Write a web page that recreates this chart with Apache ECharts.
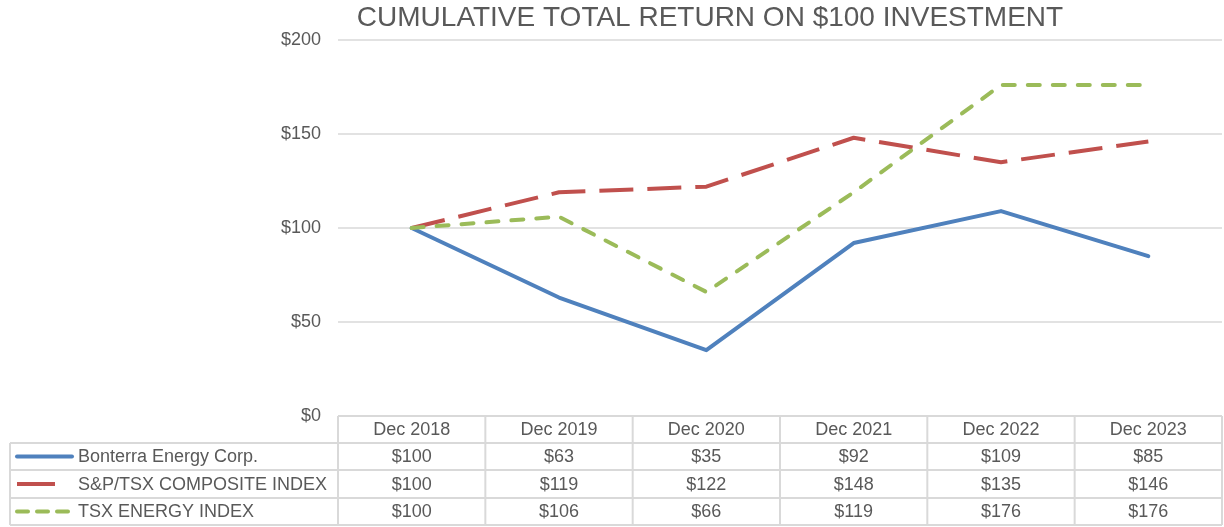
<!DOCTYPE html>
<html><head><meta charset="utf-8">
<script src="https://cdn.jsdelivr.net/npm/echarts@6/dist/echarts.min.js"></script>
<style>html,body{margin:0;padding:0;background:#fff}#c{width:1224px;height:527px}</style>
</head><body><div id="c"></div>
<script>
const categories = ['Dec 2018','Dec 2019','Dec 2020','Dec 2021','Dec 2022','Dec 2023'];
const seriesNames = ['Bonterra Energy Corp.','S&P/TSX COMPOSITE INDEX','TSX ENERGY INDEX'];
const bonterra = [100, 63, 35, 92, 109, 85];
const sptsx = [100, 119, 122, 148, 135, 146];
const tsxEnergy = [100, 106, 66, 119, 176, 176];
const yTicks = [0, 50, 100, 150, 200];
const titleText = 'CUMULATIVE TOTAL RETURN ON $100 INVESTMENT';

const FONT = '"Liberation Sans", Arial, sans-serif';
const TXT = '#595959';
const BORDER = '#d9d9d9';
const colors = ['#4f81bd', '#c0504d', '#9bbb59'];
const dashes = ['solid', [34, 14], [12, 13]];
const caps = ['round', 'butt', 'round'];
const allData = [bonterra, sptsx, tsxEnergy];

const chart = echarts.init(document.getElementById('c'));
const option = {
  animation: false,
  grid: { left: 338, right: 2, top: 40, bottom: 111, containLabel: false },
  xAxis: {
    type: 'category', data: categories, boundaryGap: true,
    axisLine: { show: false }, axisTick: { show: false }, axisLabel: { show: false }
  },
  yAxis: {
    type: 'value', min: 0, max: 200, interval: 50,
    axisLine: { show: false }, axisTick: { show: false },
    axisLabel: { formatter: v => yTicks.includes(v) ? '$' + v : '', color: TXT, fontSize: 18, fontFamily: FONT, margin: 17 },
    splitLine: { lineStyle: { color: BORDER, width: 1.5 } }
  },
  series: allData.map((d, i) => ({
    name: seriesNames[i], type: 'line', data: d, symbol: 'none',
    lineStyle: { color: colors[i], width: 4, type: dashes[i], cap: caps[i], join: 'round' },
    z: 2 + i
  }))
};
chart.setOption(option);

// table built from data arrays
const rowTops = [416, 443, 470, 498, 525];
const gridL = 338, gridR = 1222, tableL = 10;
const colW = (gridR - gridL) / categories.length;
const g = [];
const line = (x1, y1, x2, y2) => g.push({ type: 'line', shape: { x1, y1, x2, y2 }, style: { stroke: BORDER, lineWidth: 2 }, silent: true });
line(gridL, rowTops[0], gridR, rowTops[0]);
for (let r = 1; r < rowTops.length; r++) line(tableL, rowTops[r], gridR, rowTops[r]);
line(tableL, rowTops[1], tableL, rowTops[4]);
for (let c = 0; c <= categories.length; c++) {
  const x = gridL + c * colW;
  line(x, rowTops[0], x, rowTops[4]);
}
const text = (x, y, t, align) => g.push({ type: 'text', x, y, style: { text: t, fill: TXT, font: '18px ' + FONT, textAlign: align, textVerticalAlign: 'middle' }, silent: true });
categories.forEach((c, i) => {
  const x = chart.convertToPixel({ xAxisIndex: 0 }, c);
  text(x, (rowTops[0] + rowTops[1]) / 2 + 1, c, 'center');
  allData.forEach((d, s) => text(x, (rowTops[s + 1] + rowTops[s + 2]) / 2 + 1, '$' + d[i], 'center'));
});
seriesNames.forEach((n, s) => {
  const y = (rowTops[s + 1] + rowTops[s + 2]) / 2;
  text(78, y + 1, n, 'left');
  const x2 = s === 1 ? 55 : (s === 2 ? 70 : 72);
  g.push({ type: 'line', shape: { x1: 17, y1: y, x2: x2, y2: y }, style: { stroke: colors[s], lineWidth: 4, lineCap: s === 1 ? 'butt' : 'round', lineDash: s === 2 ? [11, 9] : null }, silent: true });
});
g.push({ type: 'text', x: 710, y: 18, style: { text: titleText, fill: TXT, font: '28px ' + FONT, textAlign: 'center', textVerticalAlign: 'middle' } });
chart.setOption({ graphic: g });
</script></body></html>
